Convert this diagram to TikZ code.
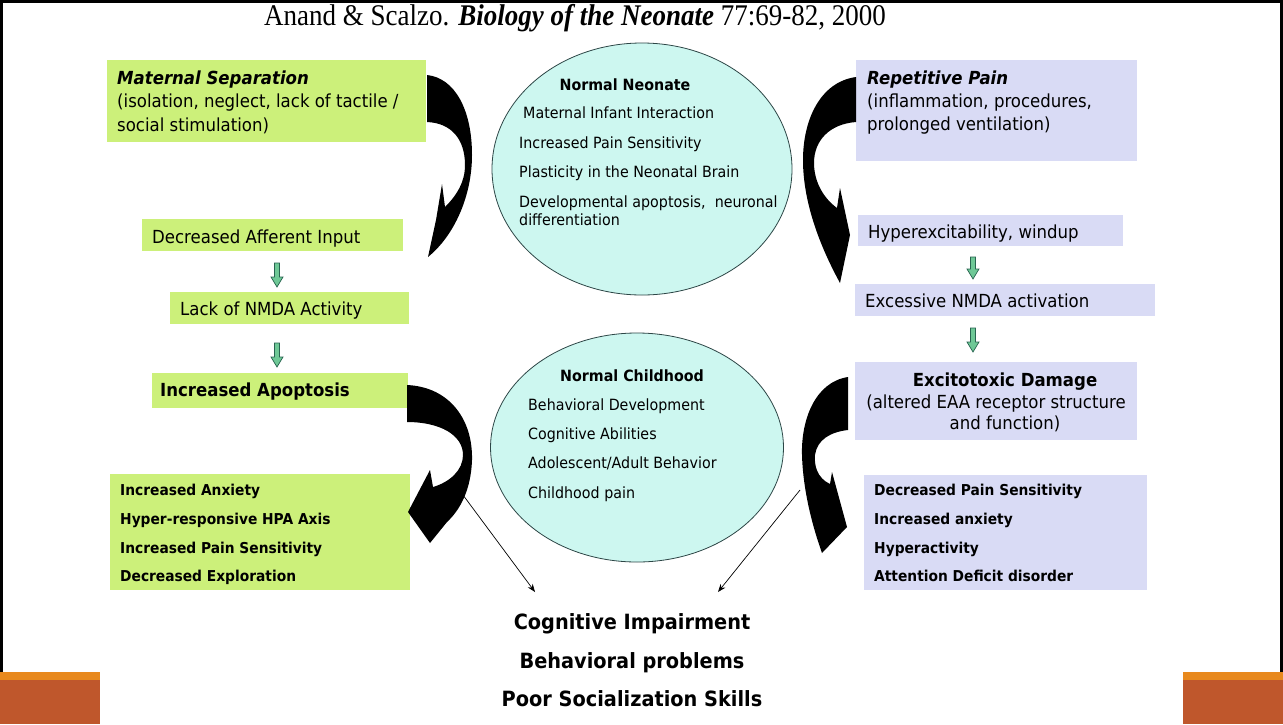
\documentclass[tikz,border=0pt]{standalone}
\usepackage{fontspec}
\setmainfont{DejaVu Sans}[FakeStretch=0.92]
\newfontfamily\titlefont{Liberation Serif}
\usetikzlibrary{arrows.meta,shapes.geometric}
\definecolor{lgreen}{RGB}{204,240,122}
\definecolor{lpurple}{RGB}{217,219,245}
\definecolor{lcyan}{RGB}{205,247,240}
\definecolor{ellborder}{RGB}{45,70,70}
\definecolor{orangeA}{RGB}{232,137,30}
\definecolor{rust}{RGB}{191,87,44}
\definecolor{garrowfill}{RGB}{110,200,150}
\definecolor{garrowline}{RGB}{40,100,80}
\newcommand\garrow[3]{\filldraw[garrowst] (#1-2.5,#2) -- (#1+2.5,#2) -- (#1+2.5,#3-10) -- (#1+6,#3-10) -- (#1,#3) -- (#1-6,#3-10) -- (#1-2.5,#3-10) -- cycle;}
\begin{document}
\begin{tikzpicture}[x=1pt,y=-1pt,
  gboxst/.style={fill=lgreen, inner sep=0, anchor=north west},
  pboxst/.style={fill=lpurple, inner sep=0, anchor=north west},
  ellst/.style={ellipse, fill=lcyan, draw=ellborder, line width=0.8pt, inner sep=0},
  tA/.style={inner sep=0, anchor=west, font=\fontsize{18}{22}\selectfont, text height=13pt, text depth=0pt},
  tAc/.style={tA, anchor=center},
  tE/.style={inner sep=0, anchor=west, font=\fontsize{15.5}{19}\selectfont, text height=11.3pt, text depth=0pt},
  tEc/.style={tE, anchor=center, font=\fontsize{15.5}{19}\selectfont\bfseries},
  tB/.style={inner sep=0, anchor=west, font=\fontsize{15}{18}\selectfont\bfseries, text height=11pt, text depth=0pt},
  tC/.style={inner sep=0, anchor=center, font=\fontsize{21}{25}\selectfont\bfseries, text height=15.3pt, text depth=0pt},
  garrowst/.style={fill=garrowfill, draw=garrowline, line width=0.7pt},
  bigarrow/.style={fill=black},
  thinarr/.style={draw=black, line width=0.7pt, -{Stealth[length=8pt,width=6pt]}},
  framest/.style={line width=3pt, draw=black}
]
\useasboundingbox (0,0) rectangle (1283,724);
\fill[white] (0,0) rectangle (1283,724);
% frame
\draw[framest] (0,1.5) -- (1283,1.5);
\draw[framest] (1.5,0) -- (1.5,672);
\draw[framest] (1281.5,0) -- (1281.5,672);
% orange corners
\fill[orangeA] (0,672) rectangle (100,680);
\fill[rust] (0,680) rectangle (100,724);
\fill[orangeA] (1183,672) rectangle (1283,680);
\fill[rust] (1183,680) rectangle (1283,724);
% title
\node[inner sep=0] (title) at (575,18) {\scalebox{0.9}[1]{\titlefont\fontsize{30}{32}\selectfont Anand \& Scalzo. \textbf{\textit{Biology of the Neonate}} 77:69-82, 2000}};
% ellipses
\node[ellst, minimum width=300pt, minimum height=252pt] (neo) at (642,169) {};
\node[ellst, minimum width=293pt, minimum height=229pt] (child) at (637,447.5) {};
\node[tEc] (neoh) at (625,85) {Normal Neonate};
\node[tE] (neo1) at (523,113) {Maternal Infant Interaction};
\node[tE] (neo2) at (519,143) {Increased Pain Sensitivity};
\node[tE] (neo3) at (519,172) {Plasticity in the Neonatal Brain};
\node[tE] (neo4) at (519,202) {Developmental apoptosis,\ \ neuronal};
\node[tE] (neo5) at (519,220) {differentiation};
\node[tEc] (chh) at (632,376) {Normal Childhood};
\node[tE] (ch1) at (528,405) {Behavioral Development};
\node[tE] (ch2) at (528,434) {Cognitive Abilities};
\node[tE] (ch3) at (528,463) {Adolescent/Adult Behavior};
\node[tE] (ch4) at (528,493) {Childhood pain};
% left boxes
\node[gboxst, minimum width=319pt, minimum height=82pt] (ms) at (107,60) {};
\node[tA] (ms1) at (117,78) {\bfseries\itshape Maternal Separation};
\node[tA] (ms2) at (117,101) {(isolation, neglect, lack of tactile /};
\node[tA] (ms3) at (117,125) {social stimulation)};
\node[gboxst, minimum width=261pt, minimum height=32pt] (dai) at (142,219) {};
\node[tA] (dait) at (152,237) {Decreased Afferent Input};
\node[gboxst, minimum width=239pt, minimum height=32pt] (lna) at (170,292) {};
\node[tA] (lnat) at (180,309) {Lack of NMDA Activity};
\node[gboxst, minimum width=256pt, minimum height=35pt] (ia) at (152,373) {};
\node[tA] (iat) at (160,390) {\bfseries Increased Apoptosis};
\node[gboxst, minimum width=300pt, minimum height=116pt] (lres) at (110,474) {};
\node[tB] (lr1) at (120,490) {Increased Anxiety};
\node[tB] (lr2) at (120,519) {Hyper-responsive HPA Axis};
\node[tB] (lr3) at (120,548) {Increased Pain Sensitivity};
\node[tB] (lr4) at (120,576) {Decreased Exploration};
% right boxes
\node[pboxst, minimum width=281pt, minimum height=101pt] (rp) at (856,60) {};
\node[tA] (rp1) at (867,78) {\bfseries\itshape Repetitive Pain};
\node[tA] (rp2) at (867,101) {(inflammation, procedures,};
\node[tA] (rp3) at (867,124) {prolonged ventilation)};
\node[pboxst, minimum width=265pt, minimum height=31pt] (hw) at (858,215) {};
\node[tA] (hwt) at (868,232) {Hyperexcitability, windup};
\node[pboxst, minimum width=300pt, minimum height=32pt] (ena) at (855,284) {};
\node[tA] (enat) at (865,301) {Excessive NMDA activation};
\node[pboxst, minimum width=282pt, minimum height=78pt] (ed) at (855,362) {};
\node[tAc] (ed1) at (1005,380) {\bfseries Excitotoxic Damage};
\node[tAc] (ed2) at (996,402) {(altered EAA receptor structure};
\node[tAc] (ed3) at (1005,423) {and function)};
\node[pboxst, minimum width=283pt, minimum height=115pt] (rres) at (864,475) {};
\node[tB] (rr1) at (874,490) {Decreased Pain Sensitivity};
\node[tB] (rr2) at (874,519) {Increased anxiety};
\node[tB] (rr3) at (874,548) {Hyperactivity};
\node[tB] (rr4) at (874,576) {Attention Deficit disorder};
% bottom outcomes
\node[tC] (out1) at (632,622) {Cognitive Impairment};
\node[tC] (out2) at (632,661) {Behavioral problems};
\node[tC] (out3) at (632,699) {Poor Socialization Skills};
% small green arrows
\garrow{277}{263}{287}
\garrow{277}{343}{367}
\garrow{973}{257}{279}
\garrow{973}{328}{352}
% big curved arrows
\fill[bigarrow] (427,75) .. controls (455,78) and (472,110) .. (472,155) .. controls (472,195) and (455,235) .. (428,257) -- (436,220) -- (442,184) -- (445,207) .. controls (457,195) and (465,182) .. (465,165) .. controls (465,140) and (452,123) .. (427,122) -- cycle;
\fill[bigarrow] (856,77) .. controls (820,82) and (803,120) .. (803,160) .. controls (803,205) and (822,250) .. (840,283) -- (850,235) -- (840,188) -- (837,208) .. controls (822,197) and (814,180) .. (814,163) .. controls (814,140) and (830,124) .. (856,122) -- cycle;
\fill[bigarrow] (407,385) .. controls (450,387) and (473,420) .. (472,460) .. controls (471,490) and (460,510) .. (447,522) -- (430,543) -- (408,512) -- (430,470) -- (433,487) .. controls (450,482) and (463,470) .. (463,455) .. controls (463,435) and (440,422) .. (407,422) -- cycle;
\fill[bigarrow] (848,377) .. controls (815,382) and (801,420) .. (802,455) .. controls (803,490) and (812,525) .. (822,553) -- (847,527) -- (832,472) -- (830,484) .. controls (817,478) and (814,465) .. (815,455) .. controls (817,440) and (830,432) .. (848,430) -- cycle;
% thin arrows
\coordinate (lstart) at (463,495);
\coordinate (lend) at (535,592);
\coordinate (rstart) at (800,490);
\coordinate (rend) at (718,592);
\draw[thinarr] (lstart) -- (lend);
\draw[thinarr] (rstart) -- (rend);
\end{tikzpicture}
\end{document}
